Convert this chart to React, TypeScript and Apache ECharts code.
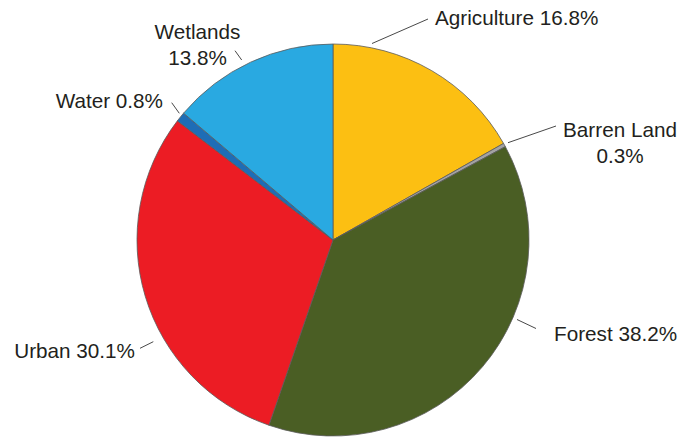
import React, { useEffect, useRef } from 'react';
import * as echarts from 'echarts';

// ---- data ----
const categories = ['Agriculture', 'Barren Land', 'Forest', 'Urban', 'Water', 'Wetlands'];
const shares = [16.8, 0.3, 38.2, 30.1, 0.8, 13.8];
const sliceColors = ['#FCBF12', '#A3A3A3', '#4A5E24', '#EC1C24', '#1E6DB6', '#29A9E1'];
const twoLineLabels = ['Barren Land', 'Wetlands'];

// ---- label placement (layout only) ----
const labelPlacement = [
  { x: 435, y: 17.5, align: 'left', line: [[372, 43.5], [428, 19]] },
  { x: 620, y: 142, align: 'center', line: [[508, 142.7], [556, 126]] },
  { x: 554, y: 333, align: 'left', line: [[517, 319.5], [536, 328.5]] },
  { x: 135, y: 350.5, align: 'right', line: [[153.3, 341.7], [140, 348.3]] },
  { x: 163, y: 100, align: 'right', line: [[179.3, 113.3], [171.7, 102.7]] },
  { x: 197.5, y: 44, align: 'center', line: [[241.7, 60], [235, 50.7]] },
];

export default function App() {
  const ref = useRef<HTMLDivElement>(null);

  useEffect(() => {
    document.body.style.margin = '0';
    const chart = echarts.init(ref.current!, undefined, { renderer: 'svg' });
    chart.setOption({
      animation: false,
      backgroundColor: '#ffffff',
      series: [
        {
          type: 'pie',
          center: [333, 240],
          radius: 196,
          startAngle: 90,
          clockwise: true,
          silent: true,
          avoidLabelOverlap: false,
          data: categories.map((name, i) => ({
            name,
            value: shares[i],
            itemStyle: { color: sliceColors[i] },
          })),
          itemStyle: { borderColor: '#5a5a5a', borderWidth: 0.8 },
          label: {
            show: true,
            position: 'outside',
            color: '#231F20',
            fontFamily: '"Liberation Sans", Arial, sans-serif',
            fontSize: 20.7,
            lineHeight: 26,
            formatter: (p: any) => {
              const v = Number(p.value).toFixed(1) + '%';
              return twoLineLabels.includes(p.name) ? `${p.name}\n${v}` : `${p.name} ${v}`;
            },
          },
          labelLine: {
            show: true,
            length: 10,
            length2: 10,
            smooth: false,
            lineStyle: { color: '#333333', width: 0.9 },
          },
          labelLayout: (params: any) => {
            const lp = labelPlacement[params.dataIndex];
            return {
              x: lp.x,
              y: lp.y,
              align: lp.align,
              verticalAlign: 'middle',
              labelLinePoints: lp.line,
            };
          },
          emphasis: { disabled: true },
        },
      ],
    });
    return () => chart.dispose();
  }, []);

  return (
    <div
      ref={ref}
      style={{ position: 'absolute', left: 0, top: 0, width: 683, height: 438 }}
    />
  );
}
